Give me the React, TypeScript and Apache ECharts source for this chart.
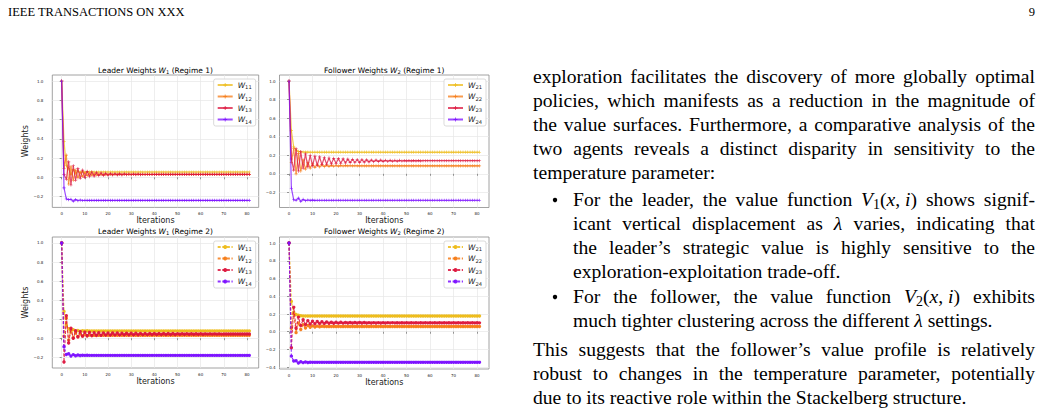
import React, { useEffect, useRef } from "react";
import * as echarts from "echarts";

// ---------- tick labels ----------
const xTicks = [0, 10, 20, 30, 40, 50, 60, 70, 80];
const yTicksA = [-0.2, 0, 0.2, 0.4, 0.6, 0.8, 1.0];
const yTicksB = [-0.4, -0.2, 0, 0.2, 0.4, 0.6, 0.8, 1.0];

const leaderNames = ["W11", "W12", "W13", "W14"];
const followerNames = ["W21", "W22", "W23", "W24"];

// ---------- Leader weights, regime 1 (iterations 0..81) ----------
const L1_W11 = [
  1.0, 0.37, 0.12, 0.09, 0.03, 0.08, 0.04, 0.065, 0.048, 0.06,
  0.052, 0.057, 0.054, 0.056, 0.055, 0.055, 0.055, 0.055, 0.055, 0.055,
  0.055, 0.055, 0.055, 0.055, 0.055, 0.055, 0.055, 0.055, 0.055, 0.055,
  0.055, 0.055, 0.055, 0.055, 0.055, 0.055, 0.055, 0.055, 0.055, 0.055,
  0.055, 0.055, 0.055, 0.055, 0.055, 0.055, 0.055, 0.055, 0.055, 0.055,
  0.055, 0.055, 0.055, 0.055, 0.055, 0.055, 0.055, 0.055, 0.055, 0.055,
  0.055, 0.055, 0.055, 0.055, 0.055, 0.055, 0.055, 0.055, 0.055, 0.055,
  0.055, 0.055, 0.055, 0.055, 0.055, 0.055, 0.055, 0.055, 0.055, 0.055,
  0.055, 0.055,
];
const L1_W12 = [
  1.0, 0.09, 0.23, -0.07, 0.11, -0.03, 0.075, -0.005, 0.055, 0.01,
  0.045, 0.018, 0.04, 0.022, 0.036, 0.025, 0.034, 0.027, 0.032, 0.028,
  0.031, 0.029, 0.03, 0.03, 0.03, 0.03, 0.03, 0.03, 0.03, 0.03,
  0.03, 0.03, 0.03, 0.03, 0.03, 0.03, 0.03, 0.03, 0.03, 0.03,
  0.03, 0.03, 0.03, 0.03, 0.03, 0.03, 0.03, 0.03, 0.03, 0.03,
  0.03, 0.03, 0.03, 0.03, 0.03, 0.03, 0.03, 0.03, 0.03, 0.03,
  0.03, 0.03, 0.03, 0.03, 0.03, 0.03, 0.03, 0.03, 0.03, 0.03,
  0.03, 0.03, 0.03, 0.03, 0.03, 0.03, 0.03, 0.03, 0.03, 0.03,
  0.03, 0.03,
];
const L1_W13 = [
  1.0, 0.03, -0.02, 0.16, -0.08, 0.12, -0.03, 0.09, -0.01, 0.075,
  0.0, 0.062, 0.008, 0.055, 0.013, 0.05, 0.017, 0.045, 0.02, 0.042,
  0.022, 0.039, 0.024, 0.037, 0.025, 0.036, 0.026, 0.035, 0.027, 0.034,
  0.027, 0.033, 0.028, 0.033, 0.028, 0.032, 0.029, 0.032, 0.029, 0.031,
  0.03, 0.03, 0.03, 0.03, 0.03, 0.03, 0.03, 0.03, 0.03, 0.03,
  0.03, 0.03, 0.03, 0.03, 0.03, 0.03, 0.03, 0.03, 0.03, 0.03,
  0.03, 0.03, 0.03, 0.03, 0.03, 0.03, 0.03, 0.03, 0.03, 0.03,
  0.03, 0.03, 0.03, 0.03, 0.03, 0.03, 0.03, 0.03, 0.03, 0.03,
  0.03, 0.03,
];
const L1_W14 = [
  1.0, -0.11, -0.225, -0.232, -0.228, -0.248, -0.232, -0.243, -0.236, -0.241,
  -0.238, -0.24, -0.239, -0.24, -0.24, -0.24, -0.24, -0.24, -0.24, -0.24,
  -0.24, -0.24, -0.24, -0.24, -0.24, -0.24, -0.24, -0.24, -0.24, -0.24,
  -0.24, -0.24, -0.24, -0.24, -0.24, -0.24, -0.24, -0.24, -0.24, -0.24,
  -0.24, -0.24, -0.24, -0.24, -0.24, -0.24, -0.24, -0.24, -0.24, -0.24,
  -0.24, -0.24, -0.24, -0.24, -0.24, -0.24, -0.24, -0.24, -0.24, -0.24,
  -0.24, -0.24, -0.24, -0.24, -0.24, -0.24, -0.24, -0.24, -0.24, -0.24,
  -0.24, -0.24, -0.24, -0.24, -0.24, -0.24, -0.24, -0.24, -0.24, -0.24,
  -0.24, -0.24,
];

// ---------- Follower weights, regime 1 ----------
const F1_W21 = [
  1.0, 0.465, 0.29, 0.255, 0.242, 0.237, 0.235, 0.234, 0.234, 0.233,
  0.233, 0.233, 0.233, 0.233, 0.233, 0.233, 0.233, 0.233, 0.233, 0.233,
  0.233, 0.233, 0.233, 0.233, 0.233, 0.233, 0.233, 0.233, 0.233, 0.233,
  0.233, 0.233, 0.233, 0.233, 0.233, 0.233, 0.233, 0.233, 0.233, 0.233,
  0.233, 0.233, 0.233, 0.233, 0.233, 0.233, 0.233, 0.233, 0.233, 0.233,
  0.233, 0.233, 0.233, 0.233, 0.233, 0.233, 0.233, 0.233, 0.233, 0.233,
  0.233, 0.233, 0.233, 0.233, 0.233, 0.233, 0.233, 0.233, 0.233, 0.233,
  0.233, 0.233, 0.233, 0.233, 0.233, 0.233, 0.233, 0.233, 0.233, 0.233,
  0.233, 0.233,
];
const F1_W22 = [
  1.0, 0.12, 0.27, 0.0, 0.22, 0.03, 0.15, 0.05, 0.125, 0.062,
  0.108, 0.07, 0.1, 0.075, 0.096, 0.078, 0.093, 0.08, 0.091, 0.082,
  0.09, 0.083, 0.089, 0.084, 0.088, 0.085, 0.087, 0.085, 0.087, 0.086,
  0.086, 0.086, 0.086, 0.086, 0.086, 0.086, 0.086, 0.086, 0.086, 0.086,
  0.086, 0.086, 0.086, 0.086, 0.086, 0.086, 0.086, 0.086, 0.086, 0.086,
  0.086, 0.086, 0.086, 0.086, 0.086, 0.086, 0.086, 0.086, 0.086, 0.086,
  0.086, 0.086, 0.086, 0.086, 0.086, 0.086, 0.086, 0.086, 0.086, 0.086,
  0.086, 0.086, 0.086, 0.086, 0.086, 0.086, 0.086, 0.086, 0.086, 0.086,
  0.086, 0.086,
];
const F1_W23 = [
  1.0, 0.16, 0.04, 0.27, 0.03, 0.24, 0.06, 0.215, 0.075, 0.2,
  0.085, 0.19, 0.092, 0.182, 0.098, 0.176, 0.103, 0.171, 0.107, 0.167,
  0.111, 0.164, 0.114, 0.161, 0.117, 0.158, 0.12, 0.156, 0.122, 0.154,
  0.124, 0.152, 0.126, 0.15, 0.128, 0.149, 0.13, 0.148, 0.132, 0.147,
  0.134, 0.146, 0.135, 0.145, 0.136, 0.144, 0.137, 0.144, 0.138, 0.143,
  0.139, 0.143, 0.139, 0.142, 0.14, 0.142, 0.14, 0.141, 0.141, 0.141,
  0.141, 0.141, 0.141, 0.141, 0.141, 0.141, 0.141, 0.141, 0.141, 0.141,
  0.141, 0.141, 0.141, 0.141, 0.141, 0.141, 0.141, 0.141, 0.141, 0.141,
  0.141, 0.141,
];
const F1_W24 = [
  1.0, -0.155, -0.28, -0.285, -0.262, -0.298, -0.276, -0.29, -0.282, -0.287,
  -0.284, -0.286, -0.285, -0.285, -0.285, -0.285, -0.285, -0.285, -0.285, -0.285,
  -0.285, -0.285, -0.285, -0.285, -0.285, -0.285, -0.285, -0.285, -0.285, -0.285,
  -0.285, -0.285, -0.285, -0.285, -0.285, -0.285, -0.285, -0.285, -0.285, -0.285,
  -0.285, -0.285, -0.285, -0.285, -0.285, -0.285, -0.285, -0.285, -0.285, -0.285,
  -0.285, -0.285, -0.285, -0.285, -0.285, -0.285, -0.285, -0.285, -0.285, -0.285,
  -0.285, -0.285, -0.285, -0.285, -0.285, -0.285, -0.285, -0.285, -0.285, -0.285,
  -0.285, -0.285, -0.285, -0.285, -0.285, -0.285, -0.285, -0.285, -0.285, -0.285,
  -0.285, -0.285,
];

// ---------- Leader weights, regime 2 ----------
const L2_W11 = [
  1.0, 0.28, 0.14, 0.1, 0.065, 0.09, 0.07, 0.082, 0.074, 0.079,
  0.076, 0.078, 0.077, 0.077, 0.077, 0.077, 0.077, 0.077, 0.077, 0.077,
  0.077, 0.077, 0.077, 0.077, 0.077, 0.077, 0.077, 0.077, 0.077, 0.077,
  0.077, 0.077, 0.077, 0.077, 0.077, 0.077, 0.077, 0.077, 0.077, 0.077,
  0.077, 0.077, 0.077, 0.077, 0.077, 0.077, 0.077, 0.077, 0.077, 0.077,
  0.077, 0.077, 0.077, 0.077, 0.077, 0.077, 0.077, 0.077, 0.077, 0.077,
  0.077, 0.077, 0.077, 0.077, 0.077, 0.077, 0.077, 0.077, 0.077, 0.077,
  0.077, 0.077, 0.077, 0.077, 0.077, 0.077, 0.077, 0.077, 0.077, 0.077,
  0.077, 0.077,
];
const L2_W12 = [
  1.0, 0.02, 0.21, -0.02, 0.085, 0.005, 0.055, 0.015, 0.045, 0.022,
  0.038, 0.026, 0.034, 0.028, 0.032, 0.029, 0.031, 0.03, 0.03, 0.03,
  0.03, 0.03, 0.03, 0.03, 0.03, 0.03, 0.03, 0.03, 0.03, 0.03,
  0.03, 0.03, 0.03, 0.03, 0.03, 0.03, 0.03, 0.03, 0.03, 0.03,
  0.03, 0.03, 0.03, 0.03, 0.03, 0.03, 0.03, 0.03, 0.03, 0.03,
  0.03, 0.03, 0.03, 0.03, 0.03, 0.03, 0.03, 0.03, 0.03, 0.03,
  0.03, 0.03, 0.03, 0.03, 0.03, 0.03, 0.03, 0.03, 0.03, 0.03,
  0.03, 0.03, 0.03, 0.03, 0.03, 0.03, 0.03, 0.03, 0.03, 0.03,
  0.03, 0.03,
];
const L2_W13 = [
  1.0, -0.25, 0.235, -0.05, 0.105, 0.0, 0.078, 0.015, 0.068, 0.022,
  0.063, 0.026, 0.06, 0.029, 0.058, 0.031, 0.057, 0.032, 0.056, 0.033,
  0.055, 0.034, 0.054, 0.035, 0.054, 0.035, 0.053, 0.036, 0.053, 0.036,
  0.052, 0.037, 0.052, 0.037, 0.051, 0.038, 0.051, 0.038, 0.05, 0.039,
  0.05, 0.039, 0.05, 0.039, 0.049, 0.04, 0.049, 0.04, 0.049, 0.04,
  0.048, 0.041, 0.048, 0.041, 0.048, 0.041, 0.047, 0.042, 0.047, 0.042,
  0.047, 0.042, 0.046, 0.043, 0.046, 0.043, 0.046, 0.043, 0.046, 0.043,
  0.045, 0.044, 0.045, 0.044, 0.045, 0.044, 0.045, 0.044, 0.045, 0.044,
  0.045, 0.044,
];
const L2_W14 = [
  1.0, -0.09, -0.17, -0.163, -0.186, -0.172, -0.183, -0.176, -0.181, -0.178,
  -0.18, -0.179, -0.18, -0.18, -0.18, -0.18, -0.18, -0.18, -0.18, -0.18,
  -0.18, -0.18, -0.18, -0.18, -0.18, -0.18, -0.18, -0.18, -0.18, -0.18,
  -0.18, -0.18, -0.18, -0.18, -0.18, -0.18, -0.18, -0.18, -0.18, -0.18,
  -0.18, -0.18, -0.18, -0.18, -0.18, -0.18, -0.18, -0.18, -0.18, -0.18,
  -0.18, -0.18, -0.18, -0.18, -0.18, -0.18, -0.18, -0.18, -0.18, -0.18,
  -0.18, -0.18, -0.18, -0.18, -0.18, -0.18, -0.18, -0.18, -0.18, -0.18,
  -0.18, -0.18, -0.18, -0.18, -0.18, -0.18, -0.18, -0.18, -0.18, -0.18,
  -0.18, -0.18,
];

// ---------- Follower weights, regime 2 ----------
const F2_W21 = [
  1.0, 0.34, 0.22, 0.195, 0.185, 0.18, 0.178, 0.177, 0.177, 0.177,
  0.177, 0.177, 0.177, 0.177, 0.177, 0.177, 0.177, 0.177, 0.177, 0.177,
  0.177, 0.177, 0.177, 0.177, 0.177, 0.177, 0.177, 0.177, 0.177, 0.177,
  0.177, 0.177, 0.177, 0.177, 0.177, 0.177, 0.177, 0.177, 0.177, 0.177,
  0.177, 0.177, 0.177, 0.177, 0.177, 0.177, 0.177, 0.177, 0.177, 0.177,
  0.177, 0.177, 0.177, 0.177, 0.177, 0.177, 0.177, 0.177, 0.177, 0.177,
  0.177, 0.177, 0.177, 0.177, 0.177, 0.177, 0.177, 0.177, 0.177, 0.177,
  0.177, 0.177, 0.177, 0.177, 0.177, 0.177, 0.177, 0.177, 0.177, 0.177,
  0.177, 0.177,
];
const F2_W22 = [
  1.0, 0.04, 0.2, -0.01, 0.1, 0.025, 0.08, 0.042, 0.07, 0.05,
  0.066, 0.054, 0.063, 0.056, 0.061, 0.058, 0.06, 0.059, 0.06, 0.06,
  0.06, 0.06, 0.06, 0.06, 0.06, 0.06, 0.06, 0.06, 0.06, 0.06,
  0.06, 0.06, 0.06, 0.06, 0.06, 0.06, 0.06, 0.06, 0.06, 0.06,
  0.06, 0.06, 0.06, 0.06, 0.06, 0.06, 0.06, 0.06, 0.06, 0.06,
  0.06, 0.06, 0.06, 0.06, 0.06, 0.06, 0.06, 0.06, 0.06, 0.06,
  0.06, 0.06, 0.06, 0.06, 0.06, 0.06, 0.06, 0.06, 0.06, 0.06,
  0.06, 0.06, 0.06, 0.06, 0.06, 0.06, 0.06, 0.06, 0.06, 0.06,
  0.06, 0.06,
];
const F2_W23 = [
  1.0, -0.18, 0.275, 0.04, 0.165, 0.07, 0.135, 0.082, 0.125, 0.088,
  0.119, 0.091, 0.115, 0.093, 0.112, 0.094, 0.11, 0.095, 0.108, 0.096,
  0.107, 0.097, 0.106, 0.097, 0.105, 0.098, 0.105, 0.098, 0.104, 0.098,
  0.104, 0.099, 0.104, 0.099, 0.103, 0.099, 0.103, 0.099, 0.103, 0.099,
  0.103, 0.099, 0.103, 0.1, 0.103, 0.1, 0.102, 0.1, 0.102, 0.1,
  0.102, 0.1, 0.102, 0.1, 0.102, 0.1, 0.102, 0.1, 0.102, 0.1,
  0.102, 0.1, 0.102, 0.1, 0.102, 0.1, 0.102, 0.1, 0.102, 0.1,
  0.102, 0.1, 0.102, 0.1, 0.102, 0.1, 0.102, 0.1, 0.102, 0.1,
  0.102, 0.1,
];
const F2_W24 = [
  1.0, -0.275, -0.33, -0.328, -0.352, -0.338, -0.348, -0.342, -0.346, -0.344,
  -0.345, -0.345, -0.345, -0.345, -0.345, -0.345, -0.345, -0.345, -0.345, -0.345,
  -0.345, -0.345, -0.345, -0.345, -0.345, -0.345, -0.345, -0.345, -0.345, -0.345,
  -0.345, -0.345, -0.345, -0.345, -0.345, -0.345, -0.345, -0.345, -0.345, -0.345,
  -0.345, -0.345, -0.345, -0.345, -0.345, -0.345, -0.345, -0.345, -0.345, -0.345,
  -0.345, -0.345, -0.345, -0.345, -0.345, -0.345, -0.345, -0.345, -0.345, -0.345,
  -0.345, -0.345, -0.345, -0.345, -0.345, -0.345, -0.345, -0.345, -0.345, -0.345,
  -0.345, -0.345, -0.345, -0.345, -0.345, -0.345, -0.345, -0.345, -0.345, -0.345,
  -0.345, -0.345,
];

// ---------- page text ----------
const HEADER_LEFT = "IEEE TRANSACTIONS ON XXX";
const HEADER_RIGHT = "9";
const PARA1 = [
  "exploration facilitates the discovery of more globally optimal",
  "policies, which manifests as a reduction in the magnitude of",
  "the value surfaces. Furthermore, a comparative analysis of the",
  "two agents reveals a distinct disparity in sensitivity to the",
  "temperature parameter:",
];
const BULLET1 = [
  "For the leader, the value function {i|V}{s|1}{n|(}{i|x}{n|, }{i|i}{n|)} shows signif-",
  "icant vertical displacement as {i|λ} varies, indicating that",
  "the leader’s strategic value is highly sensitive to the",
  "exploration-exploitation trade-off.",
];
const BULLET2 = [
  "For the follower, the value function {i|V}{s|2}{n|(}{i|x}{n|, }{i|i}{n|)} exhibits",
  "much tighter clustering across the different {i|λ} settings.",
];
const PARA2 = [
  "This suggests that the follower’s value profile is relatively",
  "robust to changes in the temperature parameter, potentially",
  "due to its reactive role within the Stackelberg structure.",
];

const COLORS = ["#EDBB17", "#F67B16", "#DC143C", "#7B0FFF"];
const SANS = "DejaVu Sans";
const SERIF = "Liberation Serif";
const FS = 19.6;
const SUBFS = 14;

function parseToken(tok: string): [string, string][] {
  if (tok.indexOf("{") < 0) return [["n", tok]];
  const out: [string, string][] = [];
  const re = /\{(\w+)\|([^}]*)\}/g;
  let m: RegExpExecArray | null;
  while ((m = re.exec(tok))) out.push([m[1], m[2]]);
  return out;
}

function buildText(): any[] {
  const ctx = document.createElement("canvas").getContext("2d")!;
  const fonts: Record<string, string> = {
    n: `${FS}px "${SERIF}"`,
    i: `italic ${FS}px "${SERIF}"`,
    s: `${SUBFS}px "${SERIF}"`,
  };
  const meas = (k: string, t: string) => {
    ctx.font = fonts[k];
    return ctx.measureText(t).width;
  };
  const rich = {
    n: { fontFamily: SERIF, fontSize: FS, lineHeight: 24, color: "#000" },
    i: { fontFamily: SERIF, fontSize: FS, fontStyle: "italic", lineHeight: 24, color: "#000" },
    s: { fontFamily: SERIF, fontSize: SUBFS, lineHeight: 10, verticalAlign: "bottom", color: "#000" },
  };
  const lineYs = [76, 100, 124, 148, 172, 199, 223, 247, 271, 296, 320, 349, 373, 397];
  const blocks = [
    { lines: PARA1, x0: 533, bullet: false },
    { lines: BULLET1, x0: 573, bullet: true },
    { lines: BULLET2, x0: 573, bullet: true },
    { lines: PARA2, x0: 533, bullet: false },
  ];
  const x1 = 1035;
  const els: any[] = [];
  let li = 0;
  blocks.forEach((b) => {
    b.lines.forEach((line, k) => {
      const y = lineYs[li++];
      const toks = line.split(/ (?![^{]*\})/).map(parseToken);
      const widths = toks.map((segs) => segs.reduce((a, [kk, t]) => a + meas(kk, t), 0));
      const total = widths.reduce((a, w) => a + w, 0);
      const last = k === b.lines.length - 1;
      const gap = last ? meas("n", " ") : (x1 - b.x0 - total) / (toks.length - 1);
      let x = b.x0;
      toks.forEach((segs, ti) => {
        els.push({
          type: "text",
          x,
          y,
          silent: true,
          style: {
            text: segs.map(([kk, t]) => `{${kk}|${t}}`).join(""),
            rich,
            align: "left",
            verticalAlign: "middle",
          },
        });
        x += widths[ti] + gap;
      });
      if (b.bullet && k === 0) {
        els.push({
          type: "circle",
          silent: true,
          shape: { cx: 555, cy: y + 1, r: 2.2 },
          style: { fill: "#000" },
        });
      }
    });
  });
  els.push({
    type: "text",
    x: 8,
    y: 12,
    silent: true,
    style: { text: HEADER_LEFT, fontFamily: SERIF, fontSize: 12.5, fill: "#000", align: "left", verticalAlign: "middle" },
  });
  els.push({
    type: "text",
    x: 1035,
    y: 12,
    silent: true,
    style: { text: HEADER_RIGHT, fontFamily: SERIF, fontSize: 12.5, fill: "#000", align: "right", verticalAlign: "middle" },
  });
  return els;
}

const yFmt = (v: number) => {
  const s = Math.abs(v).toFixed(1);
  return v < -1e-9 ? "\u2212" + s : s;
};

function buildOption(): any {
  const panels = [
    { kind: "Leader", sub: "1", regime: 1, names: leaderNames, data: [L1_W11, L1_W12, L1_W13, L1_W14],
      left: 52.3, top: 75, width: 206.4, height: 132.4, yMin: -0.3125, yMax: 1.0625, yTicks: yTicksA, yName: true, lm: 9 },
    { kind: "Follower", sub: "2", regime: 1, names: followerNames, data: [F1_W21, F1_W22, F1_W23, F1_W24],
      left: 279.5, top: 75, width: 209.5, height: 132.5, yMin: -0.363, yMax: 1.065, yTicks: yTicksA, yName: false, lm: 4 },
    { kind: "Leader", sub: "1", regime: 2, names: leaderNames, data: [L2_W11, L2_W12, L2_W13, L2_W14],
      left: 52.3, top: 237, width: 206.4, height: 131, yMin: -0.3125, yMax: 1.0625, yTicks: yTicksA, yName: true, lm: 9 },
    { kind: "Follower", sub: "2", regime: 2, names: followerNames, data: [F2_W21, F2_W22, F2_W23, F2_W24],
      left: 279.5, top: 237, width: 209.5, height: 132, yMin: -0.42, yMax: 1.068, yTicks: yTicksB, yName: false, lm: 4 },
  ];

  const grid: any[] = [];
  const xAxis: any[] = [];
  const yAxis: any[] = [];
  const series: any[] = [];
  const legend: any[] = [];
  const graphic: any[] = buildText();

  const tickLabel = { fontFamily: SANS, fontSize: 4, color: "#262626" };
  const nameStyle = { fontFamily: SANS, fontSize: 8, color: "#1a1a1a" };

  panels.forEach((p, i) => {
    grid.push({
      left: p.left, top: p.top, width: p.width, height: p.height,
      show: true, borderColor: "#8a8a8a", borderWidth: 0.8, backgroundColor: "#fff",
    });
    xAxis.push({
      gridIndex: i, type: "value", min: -4.05, max: 85.05,
      axisLine: { show: false },
      axisTick: { show: true, customValues: xTicks, length: 2, lineStyle: { color: "#555", width: 0.6 } },
      axisLabel: { ...tickLabel, customValues: xTicks, margin: 4 },
      splitLine: { show: true, lineStyle: { color: "#e6e6e6", width: 0.7 } },
      name: "Iterations", nameLocation: "middle", nameGap: 9, nameTextStyle: nameStyle,
    });
    yAxis.push({
      gridIndex: i, type: "value", min: p.yMin, max: p.yMax,
      axisLine: { show: false },
      axisTick: { show: true, customValues: p.yTicks, length: 2, lineStyle: { color: "#555", width: 0.6 } },
      axisLabel: { ...tickLabel, customValues: p.yTicks, margin: p.lm, formatter: yFmt },
      splitLine: { show: true, lineStyle: { color: "#e6e6e6", width: 0.7 } },
      name: p.yName ? "Weights" : "", nameLocation: "middle", nameGap: 14, nameTextStyle: nameStyle,
    });
    const tag = `|${i}`;
    p.names.forEach((nm, j) => {
      const r1 = p.regime === 1;
      series.push({
        type: "line",
        name: nm + tag,
        xAxisIndex: i,
        yAxisIndex: i,
        data: p.data[j].map((v, k) => [k, v]),
        color: COLORS[j],
        z: 2 + j,
        silent: true,
        animation: false,
        showSymbol: true,
        symbol: r1 ? "path://M2,0H3V2H5V3H3V5H2V3H0V2H2Z" : "circle",
        symbolSize: r1 ? 3.2 : 3.4,
        itemStyle: { color: COLORS[j], opacity: r1 ? 0.85 : 0.95 },
        lineStyle: r1
          ? { width: 1.2, color: COLORS[j], opacity: 0.75 }
          : { width: 1.1, color: COLORS[j], opacity: 0.85, type: [3, 1.6] },
        emphasis: { disabled: true },
      });
    });
    legend.push({
      orient: "vertical",
      right: 1043 - (p.left + p.width - 3),
      top: p.top + 4,
      data: p.names.map((nm) => nm + tag),
      selectedMode: false,
      itemWidth: 15,
      itemHeight: 5,
      itemGap: 3,
      padding: [2, 4, 2, 3],
      backgroundColor: "rgba(255,255,255,0.9)",
      borderColor: "#d0d0d0",
      borderWidth: 0.8,
      borderRadius: 2,
      formatter: (name: string) => `{w|W}{s|${name.split("|")[0].slice(1)}}`,
      textStyle: {
        rich: {
          w: { fontFamily: SANS, fontStyle: "italic", fontSize: 7.5, lineHeight: 9, color: "#1a1a1a" },
          s: { fontFamily: SANS, fontSize: 5.2, lineHeight: 5, verticalAlign: "bottom", color: "#1a1a1a" },
        },
      },
    });
    const cx = p.left + p.width / 2;
    const cy = p.top - (p.regime === 1 ? 5 : 6);
    graphic.push({
      type: "text",
      x: cx,
      y: cy,
      silent: true,
      style: {
        text: `{t|${p.kind} Weights }{ti|W}{ts|${p.sub}}{t| (Regime ${p.regime})}`,
        align: "center",
        verticalAlign: "middle",
        rich: {
          t: { fontFamily: SANS, fontSize: 7.5, lineHeight: 9, color: "#1a1a1a" },
          ti: { fontFamily: SANS, fontSize: 7.5, fontStyle: "italic", lineHeight: 9, color: "#1a1a1a" },
          ts: { fontFamily: SANS, fontSize: 5.2, lineHeight: 5, verticalAlign: "bottom", color: "#1a1a1a" },
        },
      },
    });
  });

  return {
    animation: false,
    backgroundColor: "#fff",
    grid,
    xAxis,
    yAxis,
    series,
    legend,
    graphic: { elements: graphic },
  };
}

export default function App() {
  const ref = useRef<HTMLDivElement>(null);
  useEffect(() => {
    const el = ref.current!;
    const chart = echarts.init(el, undefined, { renderer: "svg" });
    chart.setOption(buildOption());
    return () => chart.dispose();
  }, []);
  return (
    <div
      ref={ref}
      style={{ position: "absolute", left: 0, top: 0, width: 1043, height: 409, background: "#fff" }}
    />
  );
}
